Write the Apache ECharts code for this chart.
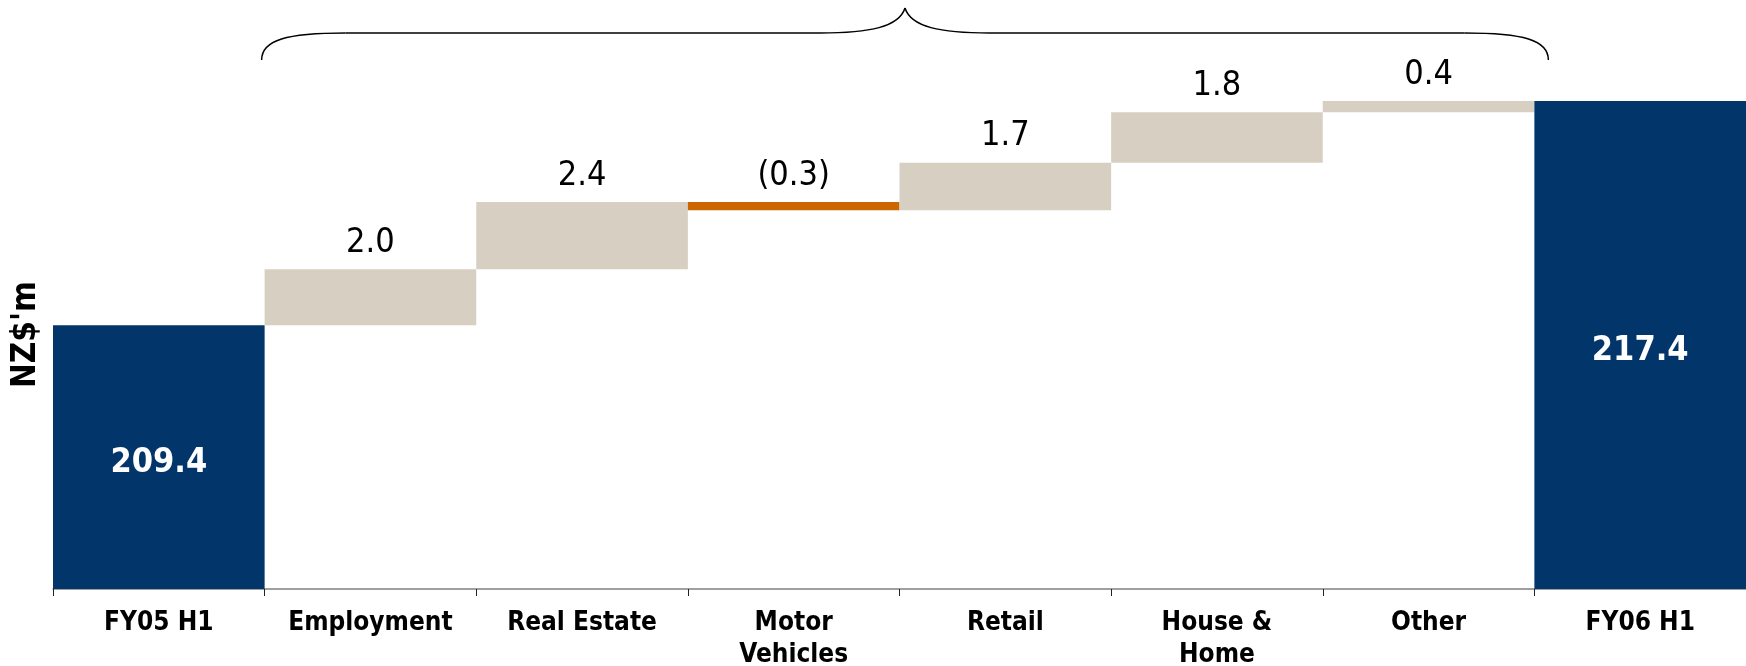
<!DOCTYPE html>
<html><head><meta charset="utf-8">
<script src="https://cdn.jsdelivr.net/npm/echarts@6/dist/echarts.min.js"></script>
<style>html,body{margin:0;padding:0;background:#fff}#c{width:1746px;height:666px}</style>
</head><body><div id="c"></div>
<script>
// ---- data ----
const categories = ['FY05 H1', 'Employment', 'Real Estate', 'Motor\nVehicles', 'Retail', 'House &\nHome', 'Other', 'FY06 H1'];
const openingTotal = 209.4;
const changes = [2.0, 2.4, -0.3, 1.7, 1.8, 0.4];
const closingTotal = 217.4;
const axisMin = 200;
const axisMax = 220;

// ---- styles ----
const NAVY = '#02356A', BEIGE = '#D7CFC2', ORANGE = '#CC6600';
const FONT = "'DejaVu Sans Condensed','DejaVu Sans',Verdana,sans-serif";

const totalLabel = {
  show: true, position: 'inside', offset: [0, 6], color: '#fff', fontWeight: 'bold', fontSize: 34, fontFamily: FONT,
  formatter: p => Number(p.value).toFixed(1)
};

const baseData = [], barData = [];
baseData.push(0);
barData.push({ value: openingTotal, itemStyle: { color: NAVY }, label: totalLabel });
let run = openingTotal;
changes.forEach(d => {
  const lo = d >= 0 ? run : run + d;
  baseData.push(+lo.toFixed(4));
  barData.push({
    value: Math.abs(d),
    itemStyle: { color: d >= 0 ? BEIGE : ORANGE },
    label: {
      show: true, position: 'top', distance: 9, color: '#000', fontSize: 34, fontFamily: FONT,
      formatter: () => d < 0 ? '(' + Math.abs(d).toFixed(1) + ')' : d.toFixed(1)
    }
  });
  run += d;
});
baseData.push(0);
barData.push({ value: closingTotal, itemStyle: { color: NAVY }, label: totalLabel });

const chart = echarts.init(document.getElementById('c'), null, { renderer: 'canvas' });
chart.setOption({
  animation: false,
  backgroundColor: '#fff',
  grid: { left: 53, right: 0, top: 28, bottom: 77, containLabel: false, outerBoundsMode: 'none' },
  xAxis: {
    type: 'category',
    data: categories,
    axisLine: { show: true, lineStyle: { color: '#808080', width: 1.5 } },
    axisTick: { show: true, interval: 0, length: 7, lineStyle: { color: '#222', width: 1 } },
    axisLabel: { interval: 0, color: '#000', fontWeight: 'bold', fontSize: 26, lineHeight: 32, margin: 18, fontFamily: FONT },
    splitLine: { show: false }
  },
  yAxis: {
    type: 'value', min: axisMin, max: axisMax, interval: 5,
    axisLine: { show: false }, axisTick: { show: false }, axisLabel: { show: false }, splitLine: { show: false },
    name: "NZ$'m", nameLocation: 'middle', nameRotate: 90, nameGap: 10,
    nameTextStyle: { color: '#000', fontWeight: 'bold', fontSize: 33, fontFamily: FONT, padding: [0, 52, 0, 0] }
  },
  series: [
    { type: 'bar', stack: 'wf', data: baseData, barCategoryGap: 0, itemStyle: { color: 'rgba(0,0,0,0)' }, silent: true },
    { type: 'bar', stack: 'wf', data: barData, barCategoryGap: 0 }
  ]
});

// decorative brace spanning the change categories
const cL = chart.convertToPixel({ xAxisIndex: 0 }, 1);
const cR = chart.convertToPixel({ xAxisIndex: 0 }, 6);
const band = chart.convertToPixel({ xAxisIndex: 0 }, 2) - cL;
const x0 = cL - band / 2 - 3, x1 = cR + band / 2 + 14, xm = (x0 + x1) / 2;
const yLine = 33, yEnd = 60, yPeak = 8;
const st = { stroke: '#000', lineWidth: 1.5, fill: null };
const bz = (a, b, c1, c2) => ({ type: 'bezierCurve', silent: true, style: st,
  shape: { x1: a[0], y1: a[1], x2: b[0], y2: b[1], cpx1: c1[0], cpy1: c1[1], cpx2: c2[0], cpy2: c2[1] } });
const ln = (a, b) => ({ type: 'line', silent: true, style: st, shape: { x1: a[0], y1: a[1], x2: b[0], y2: b[1] } });
chart.setOption({
  graphic: [
    bz([x0, yEnd], [x0 + 84, yLine], [x0, yLine + 7], [x0 + 25, yLine]),
    ln([x0 + 84, yLine], [xm - 85, yLine]),
    bz([xm - 85, yLine], [xm, yPeak], [xm - 35, yLine], [xm - 6, yLine - 6]),
    bz([xm, yPeak], [xm + 85, yLine], [xm + 6, yLine - 6], [xm + 35, yLine]),
    ln([xm + 85, yLine], [x1 - 84, yLine]),
    bz([x1 - 84, yLine], [x1, yEnd], [x1 - 25, yLine], [x1, yLine + 7])
  ]
});
</script>
</body></html>
